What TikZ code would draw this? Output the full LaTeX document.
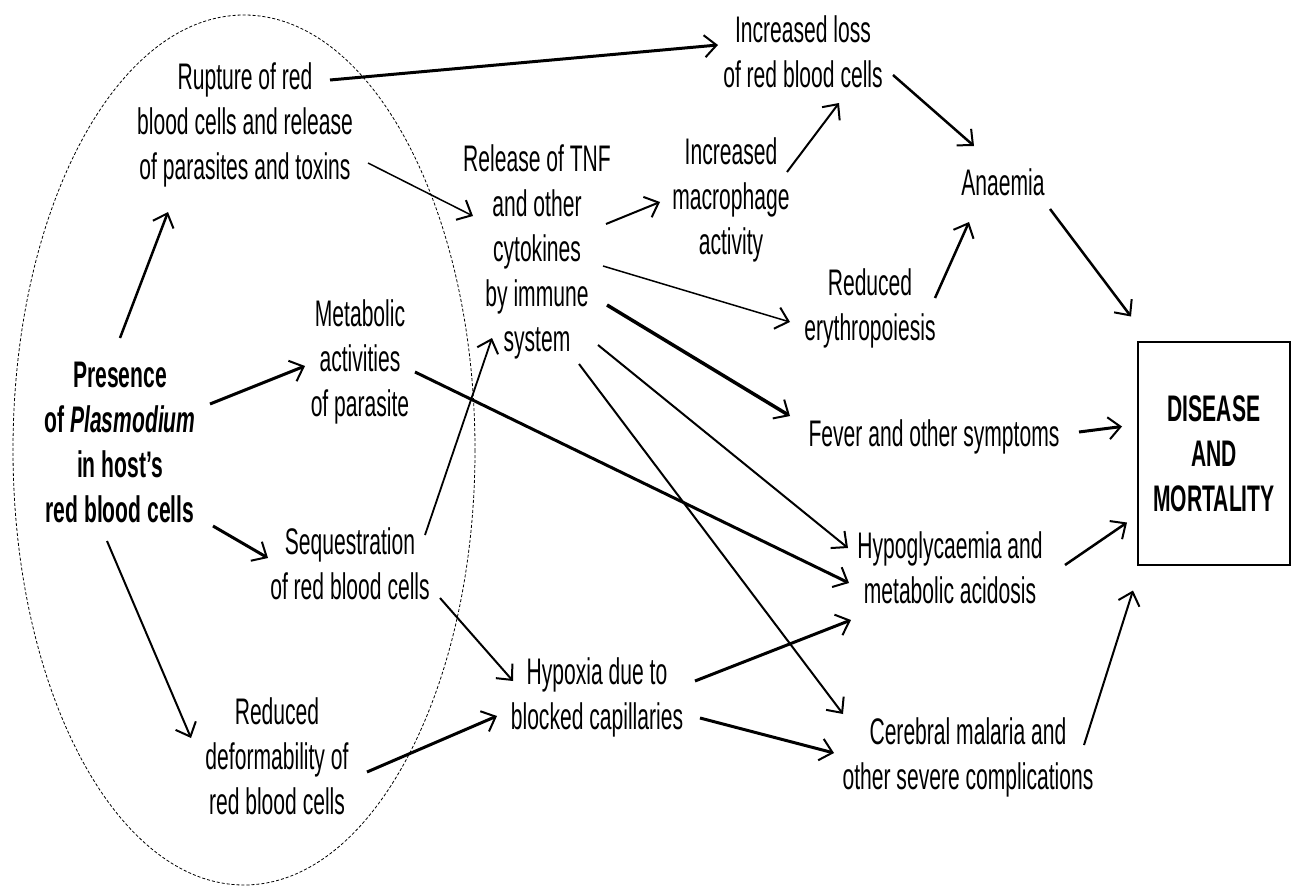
\documentclass[tikz,border=0pt]{standalone}
\usepackage{fontspec}
\setmainfont[FakeStretch=0.57]{Liberation Sans}
\usetikzlibrary{arrows.meta}
\begin{document}
\begin{tikzpicture}[x=1pt,y=-1pt,
  lbl/.style={align=center,inner sep=0pt,font=\fontsize{37}{45}\selectfont},
  blbl/.style={align=center,inner sep=0pt,font=\fontsize{37}{45}\selectfont\bfseries},
  arr/.style={-{Straight Barb[length=12pt,width=22pt,line width=2pt]},line width=#1},
  arr/.default=2pt]
\useasboundingbox (0,0) rectangle (1299,886);
\fill[white] (0,0) rectangle (1299,886);
\draw[line width=0.8pt,dash pattern=on 3pt off 2pt] (244,450) ellipse [x radius=231, y radius=435];

\node[lbl] (rupture) at (245,125) {Rupture of red\\blood cells and release\\of parasites and toxins};
\node[blbl] (presence) at (120,442) {Presence\\of \textit{Plasmodium}\\in host's\\red blood cells};
\node[lbl] (metab) at (360,362) {Metabolic\\activities\\of parasite};
\node[lbl] (seq) at (350,564) {Sequestration\\of red blood cells};
\node[lbl] (deform) at (277,756) {Reduced\\deformability of\\red blood cells};
\node[lbl] (tnf) at (537,252) {Release of TNF\\and other\\cytokines\\by immune\\system};
\node[lbl] (macro) at (731,200) {Increased\\macrophage\\activity};
\node[lbl] (loss) at (803,52) {Increased loss\\of red blood cells};
\node[lbl] (anaemia) at (1003,182) {Anaemia};
\node[lbl] (ery) at (870,308) {Reduced\\erythropoiesis};
\node[lbl] (fever) at (934,437) {Fever and other symptoms};
\node[lbl] (hypo) at (950,568) {Hypoglycaemia and\\metabolic acidosis};
\node[lbl] (hypox) at (597,697) {Hypoxia due to\\blocked capillaries};
\node[lbl] (cereb) at (968,757) {Cerebral malaria and\\other severe complications};
\node[blbl,draw,line width=1.5pt,minimum width=152pt,minimum height=223pt] (disease) at (1214,453.5) {DISEASE\\AND\\MORTALITY};

\draw[arr=3pt] ([shift={(85,-45)}]rupture.center) -- ([shift={(-85,-7)}]loss.center);
\draw[arr=1.5pt] ([shift={(123,38)}]rupture.center) -- ([shift={(-64,-36)}]tnf.center);
\draw[arr=2.5pt] ([shift={(0,-104)}]presence.center) -- ([shift={(-77,87)}]rupture.center);
\draw[arr=3pt] ([shift={(90,-38)}]presence.center) -- ([shift={(-55,4)}]metab.center);
\draw[arr=3pt] ([shift={(93,84)}]presence.center) -- ([shift={(-82,-6)}]seq.center);
\draw[arr=2pt] ([shift={(-13,99)}]presence.center) -- ([shift={(-86,-18)}]deform.center);
\draw[arr=1.8pt] ([shift={(75,-29)}]seq.center) -- ([shift={(-45,86)}]tnf.center);
\draw[arr=3pt] ([shift={(55,10)}]metab.center) -- ([shift={(-101,15)}]hypo.center);
\draw[arr=2pt] ([shift={(69,-28)}]tnf.center) -- ([shift={(-71,2)}]macro.center);
\draw[arr=2pt] ([shift={(56,-28)}]macro.center) -- ([shift={(36,51)}]loss.center);
\draw[arr=1.5pt] ([shift={(66,14)}]tnf.center) -- ([shift={(-80,14)}]ery.center);
\draw[arr=3.5pt] ([shift={(70,53)}]tnf.center) -- ([shift={(-144,-21)}]fever.center);
\draw[arr=2pt] ([shift={(61,93)}]tnf.center) -- ([shift={(-102,-20)}]hypo.center);
\draw[arr=2pt] ([shift={(42,112)}]tnf.center) -- ([shift={(-125,-43)}]cereb.center);
\draw[arr=2pt] ([shift={(90,34)}]seq.center) -- ([shift={(-84,-16)}]hypox.center);
\draw[arr=3pt] ([shift={(90,16)}]deform.center) -- ([shift={(-100,19)}]hypox.center);
\draw[arr=3pt] ([shift={(98,-16)}]hypox.center) -- ([shift={(-99,52)}]hypo.center);
\draw[arr=3pt] ([shift={(103,21)}]hypox.center) -- ([shift={(-134,-4)}]cereb.center);
\draw[arr=2.5pt] ([shift={(90,23)}]loss.center) -- ([shift={(-29,-36)}]anaemia.center);
\draw[arr=2.5pt] ([shift={(65,-10)}]ery.center) -- ([shift={(-34,40)}]anaemia.center);
\draw[arr=2.5pt] ([shift={(47,27)}]anaemia.center) -- ([shift={(-83,-137)}]disease.center);
\draw[arr=3pt] ([shift={(145,-5)}]fever.center) -- ([shift={(-92,-27)}]disease.center);
\draw[arr=2.5pt] ([shift={(115,-3)}]hypo.center) -- ([shift={(-87,69)}]disease.center);
\draw[arr=2pt] ([shift={(116,-12)}]cereb.center) -- ([shift={(-81,137)}]disease.center);
\end{tikzpicture}
\end{document}
